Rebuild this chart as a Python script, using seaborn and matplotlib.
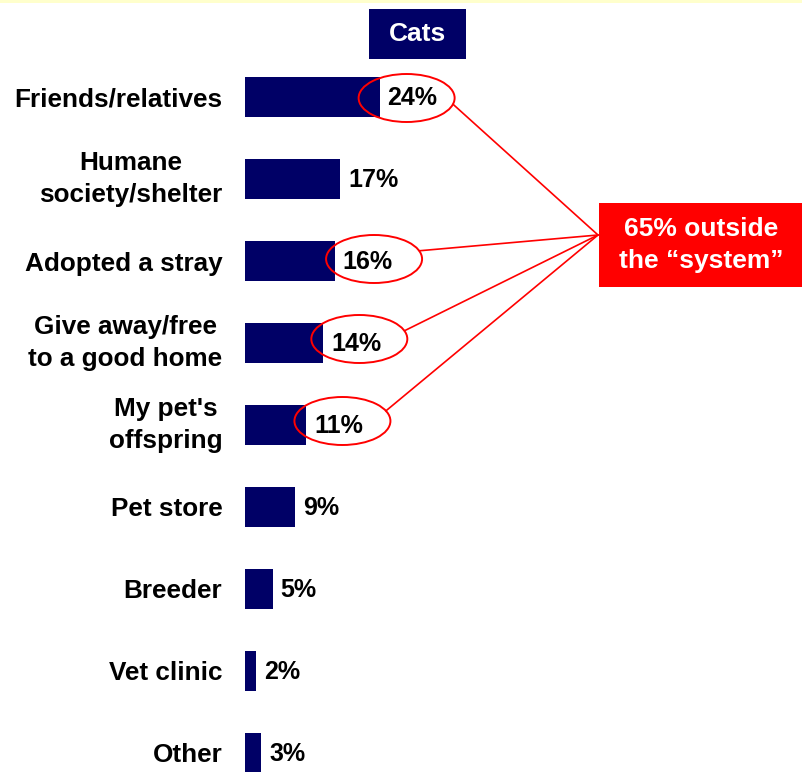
import numpy as np
import pandas as pd
import matplotlib
matplotlib.use("Agg")
import matplotlib.pyplot as plt
import seaborn as sns
from matplotlib.patches import Ellipse, Rectangle

# ---------------- data ----------------
categories = ["Friends/relatives", "Humane\nsociety/shelter", "Adopted a stray",
              "Give away/free\nto a good home", "My pet's\noffspring", "Pet store",
              "Breeder", "Vet clinic", "Other"]
values = [24, 17, 16, 14, 11, 9, 5, 2, 3]
value_labels = [f"{v}%" for v in values]
title_text = "Cats"
callout_text = "65% outside\nthe \u201csystem\u201d"
circled = [0, 2, 3, 4]  # indices of circled categories

# ---------------- style ----------------
sns.set_theme(style="white")
plt.rcParams["font.family"] = ["Liberation Sans", "DejaVu Sans"]

NAVY = "#000066"
RED = "#FF0000"
W, H = 802, 772
PX = 5.63   # pixels per percent
PY = 82     # pixels per category
LEFT = 244.5
TOP_C = 97

fig = plt.figure(figsize=(W / 100, H / 100), dpi=100)
fig.patch.set_facecolor("white")
ax = fig.add_axes([LEFT / W, 0, (W - LEFT) / W, 1])

df = pd.DataFrame({"category": categories, "value": values})
sns.barplot(data=df, x="value", y="category", orient="h", color=NAVY,
            saturation=1, width=40 / PY, linewidth=0, ax=ax)

ax.set_xlim(0, (W - LEFT) / PX)
ax.set_ylim((H - TOP_C) / PY, -TOP_C / PY)
for s in ax.spines.values():
    s.set_visible(False)
ax.set_xticks([])
ax.set_xlabel("")
ax.set_ylabel("")
ax.set_facecolor("none")
ax.set_yticks(range(len(categories)))
ax.set_yticklabels(categories, fontsize=18.8, fontweight="bold", color="black",
                   multialignment="center", linespacing=1.37)
ax.tick_params(axis="y", length=0, pad=16, labelcolor="black")
for t in ax.get_yticklabels():
    if "\n" in t.get_text():
        t.set_va("center")

# value labels
for i, (v, lab) in enumerate(zip(values, value_labels)):
    ax.text(v + 8 / PX, i + 1 / PY, lab, ha="left", va="center", fontsize=18,
            fontweight="bold", color="black", zorder=5)

# ellipses and connector lines
ell_dx = {0: 27, 2: 39.5, 3: 36, 4: 36}
ell_dy = {0: 1, 2: -2, 3: -4, 4: -4}
ell_ang = {0: 15, 2: -20, 3: -20, 4: -25}
tx = (598 - LEFT) / PX
ty = (235 - TOP_C) / PY
for i in circled:
    cx = values[i] + ell_dx[i] / PX
    cy = i + ell_dy[i] / PY
    ax.add_patch(Ellipse((cx, cy), 96 / PX, 48 / PY, fill=False,
                         edgecolor=RED, lw=1.4, clip_on=False, zorder=6))
    a = np.deg2rad(ell_ang[i])
    sx = cx + 48 * np.cos(a) / PX
    sy = cy + 24 * np.sin(a) / PY
    ax.plot([sx, tx], [sy, ty], color=RED, lw=1.2, clip_on=False, zorder=6)

# top yellow strip
fig.patches.append(Rectangle((0, 1 - 3 / H), 1, 3 / H, transform=fig.transFigure,
                             facecolor="#FFFFCC", edgecolor="none"))
# Cats box
fig.patches.append(Rectangle((369 / W, 1 - 59 / H), 97 / W, 50 / H,
                             transform=fig.transFigure, facecolor=NAVY, edgecolor="none"))
fig.text(417.5 / W, 1 - 34 / H, title_text, ha="center", va="center",
         fontsize=19, fontweight="bold", color="white")

# callout box
fig.patches.append(Rectangle((599 / W, 1 - 287 / H), 203 / W, 84 / H,
                             transform=fig.transFigure, facecolor=RED, edgecolor="none"))
fig.text(701 / W, 1 - 245 / H, callout_text, ha="center", va="center",
         fontsize=19, fontweight="bold", color="white", linespacing=1.37)

fig.savefig("out.png", dpi=100, facecolor="white")
